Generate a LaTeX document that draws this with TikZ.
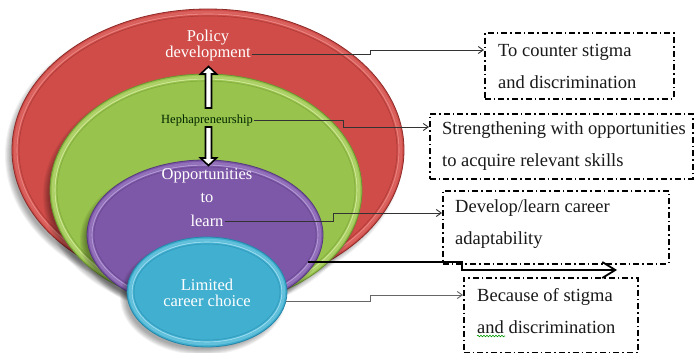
\documentclass[tikz,border=0pt]{standalone}
\usepackage{fontspec}
\setmainfont{Liberation Serif}
\usetikzlibrary{shapes.geometric, arrows.meta, calc, decorations.pathmorphing}

\definecolor{redbase}{HTML}{D04C48}
\definecolor{redlight}{HTML}{EE8C88}
\definecolor{reddark}{HTML}{8C2B29}
\definecolor{grnbase}{HTML}{98C34C}
\definecolor{grnlight}{HTML}{D6EC9E}
\definecolor{grndark}{HTML}{6A9432}
\definecolor{purbase}{HTML}{7E58A8}
\definecolor{purlight}{HTML}{BBA2DC}
\definecolor{purdark}{HTML}{553A7E}
\definecolor{cynbase}{HTML}{40AFD0}
\definecolor{cynlight}{HTML}{A2E0F2}
\definecolor{cyndark}{HTML}{2585A8}

% one bevelled disc: name, cx, cy, rx, ry, fill, rim, edge
\newcommand\layerdisc[8]{%
  \foreach \k in {0,...,6}
    \fill[black, opacity=0.055] (#2-4,#3+5) ellipse [x radius={(#4-3+\k)*1pt}, y radius={(#5-3+\k)*1pt}];
  \node[ellipse, fill=#6, draw=#8, line width=0.8pt, inner sep=0pt,
        minimum width=2*#4, minimum height=2*#5] (#1) at (#2,#3) {};
  \draw[#7, line width=2.4pt, opacity=0.35] (#2,#3) ellipse [x radius={(#4-3)*1pt}, y radius={(#5-3)*1pt}];
  \draw[#7, line width=1.1pt, opacity=0.85] (#2,#3) ellipse [x radius={(#4-5)*1pt}, y radius={(#5-5)*1pt}];
  \draw[#8, line width=0.6pt, opacity=0.5] (#2,#3) ellipse [x radius={(#4-7)*1pt}, y radius={(#5-7)*1pt}];
}

\tikzset{
  inlabel/.style={text=white, font=\fontsize{16.5}{18}\selectfont, inner sep=1pt},
  heplabel/.style={text=black!85!green, font=\fontsize{12.5}{14}\selectfont, inner sep=1pt},
  notebox/.style={draw=black, line width=1.6pt, anchor=north west, inner sep=0pt,
    dash pattern=on 6pt off 3pt on 1.6pt off 3pt},
  notetext/.style={anchor=west, align=left, inner sep=0pt, text=black!90,
    font=\fontsize{18.5}{32}\selectfont},
  conn/.style={draw=black!80, line width=0.9pt, -{Straight Barb[length=5pt,width=7pt]}},
  bigconn/.style={draw=black, line width=1.8pt, -{Straight Barb[length=13pt,width=16pt]}},
  updown/.style={draw=black, fill=white, line width=1.6pt, line join=miter},
}

\begin{document}
\begin{tikzpicture}[x=1pt, y=-1pt]
  \fill[white] (0,0) rectangle (694,353);
  \useasboundingbox (0,0) rectangle (694,353);

  % nested discs
  \layerdisc{policydisc}{208}{150}{196}{141}{redbase}{redlight}{reddark}
  \layerdisc{hephdisc}{206}{190}{156}{116}{grnbase}{grnlight}{grndark}
  \layerdisc{learndisc}{205}{235}{118}{75}{purbase}{purlight}{purdark}
  \layerdisc{cyan}{207}{292}{80}{55}{cynbase}{cynlight}{cyndark}

  % labels inside the discs
  \node[inlabel] (polA) at (208,38) {Policy};
  \node[inlabel] (polB) at (208,54) {development};
  \node[heplabel] (heph) at (207,120) {Hephapreneurship};
  \node[inlabel] (opp) at (207,176) {Opportunities};
  \node[inlabel] (oppto) at (207,198) {to};
  \node[inlabel] (learn) at (207,221) {learn};
  \node[inlabel] (limA) at (207,285) {Limited};
  \node[inlabel] (limB) at (207,301) {career choice};

  % two-way arrow through the middle
  \draw[updown] (205.5,108) -- (205.5,74) -- (200.5,74) -- (208.5,66.5) -- (216.5,74)
    -- (211.5,74) -- (211.5,108) -- cycle;
  \draw[updown] (205.5,127) -- (205.5,158) -- (200.5,158) -- (208.5,165.5) -- (216.5,158)
    -- (211.5,158) -- (211.5,127) -- cycle;

  % note boxes
  \node[notebox, minimum width=189, minimum height=66] (box1) at (484,32) {};
  \node[notebox, minimum width=263, minimum height=65] (box2) at (429,113) {};
  \node[notebox, minimum width=226, minimum height=73] (box3) at (442,190) {};
  \node[notebox, minimum width=174, minimum height=75] (box4) at (463,277) {};

  \node[notetext] (txt1) at (498,66) {To counter stigma\\and discrimination};
  \node[notetext] (txt2) at (442,146.5) {Strengthening with opportunities\\to acquire relevant skills};
  \node[notetext] (txt3) at (455,224) {Develop/learn career\\adaptability};
  \node[notetext] (txt4) at (477,311) {Because of stigma\\and discrimination};
  \draw[green!60!black, line width=0.6pt, decorate,
        decoration={snake, amplitude=0.8pt, segment length=3pt}] (477,336) -- (505,336);

  % elbow points and arrow targets
  \coordinate (k1) at (370,0);
  \coordinate (k2) at (343,0);
  \coordinate (k3) at (333,0);
  \coordinate (k4) at (462,0);
  \coordinate (k5) at (370,0);
  \coordinate (t1) at ([yshift=-18pt]box1.north west);
  \coordinate (t2) at ([yshift=-14pt]box2.north west);
  \coordinate (t3) at ([yshift=-23pt]box3.north west);
  \coordinate (t4) at ([yshift=-18pt]box4.north west);
  \coordinate (pin) at (308,262);
  \coordinate (tend) at (617,270);

  % connectors
  \draw[conn] (polB.east) -- (polB.east -| k1) |- (t1);
  \draw[conn] (heph.east) -- (heph.east -| k2) |- (t2);
  \draw[conn] (learn.east) -- (learn.east -| k3) |- (t3);
  \draw[bigconn] (pin) -- (pin -| k4) |- (tend);
  \draw[conn, draw=black!60] (cyan.-7) -- (cyan.-7 -| k5) |- (t4);
\end{tikzpicture}
\end{document}
